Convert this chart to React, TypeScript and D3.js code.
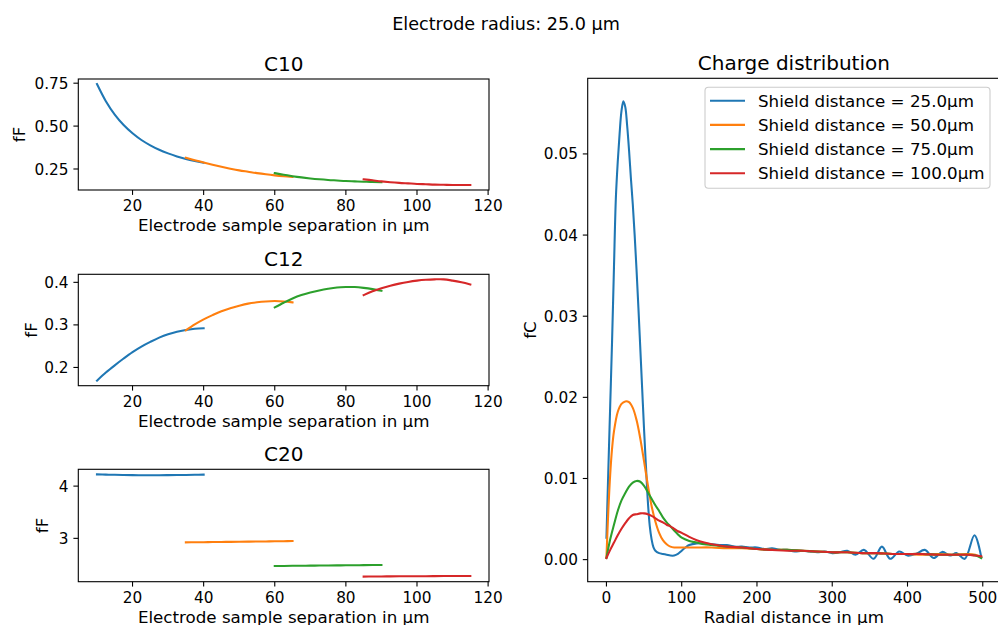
import React from 'react';
import * as d3 from 'd3';

const W = 998;
const H = 625;
const FONT = '"DejaVu Sans", Verdana, sans-serif';
const COLORS = ['#1f77b4', '#ff7f0e', '#2ca02c', '#d62728'];
const shieldDistances = [25.0, 50.0, 75.0, 100.0];

// electrode-sample separation sweeps (µm), one per shield distance
const sep25 = [10, 12.5, 15, 17.5, 20, 22.5, 25, 27.5, 30, 32.5, 35, 37.5, 40];
const sep50 = [35, 37.5, 40, 42.5, 45, 47.5, 50, 52.5, 55, 57.5, 60, 62.5, 65];
const sep75 = [60, 62.5, 65, 67.5, 70, 72.5, 75, 77.5, 80, 82.5, 85, 87.5, 90];
const sep100 = [85, 87.5, 90, 92.5, 95, 97.5, 100, 102.5, 105, 107.5, 110, 112.5, 115];

// C10 (fF)
const c10_25 = [0.745, 0.645, 0.567, 0.506, 0.458, 0.419, 0.388, 0.362, 0.341, 0.323, 0.308, 0.296, 0.286];
const c10_50 = [0.315, 0.301, 0.288, 0.275, 0.263, 0.252, 0.242, 0.234, 0.226, 0.219, 0.213, 0.208, 0.204];
const c10_75 = [0.226, 0.216, 0.208, 0.201, 0.195, 0.19, 0.186, 0.183, 0.18, 0.178, 0.176, 0.174, 0.173];
const c10_100 = [0.19, 0.184, 0.178, 0.173, 0.169, 0.166, 0.163, 0.161, 0.159, 0.158, 0.157, 0.157, 0.157];

// C12 (fF)
const c12_25 = [0.169, 0.188, 0.205, 0.221, 0.236, 0.249, 0.26, 0.27, 0.278, 0.284, 0.288, 0.291, 0.292];
const c12_50 = [0.287, 0.301, 0.313, 0.323, 0.332, 0.339, 0.345, 0.35, 0.353, 0.355, 0.356, 0.355, 0.353];
const c12_75 = [0.341, 0.352, 0.362, 0.37, 0.376, 0.381, 0.385, 0.388, 0.389, 0.389, 0.387, 0.384, 0.38];
const c12_100 = [0.37, 0.379, 0.386, 0.392, 0.397, 0.401, 0.404, 0.406, 0.407, 0.407, 0.404, 0.4, 0.395];

// C20 (fF)
const c20_25 = [4.224, 4.22, 4.216, 4.213, 4.21, 4.209, 4.208, 4.209, 4.21, 4.212, 4.214, 4.217, 4.22];
const c20_50 = [2.923, 2.925, 2.927, 2.929, 2.931, 2.933, 2.935, 2.937, 2.939, 2.941, 2.943, 2.946, 2.948];
const c20_75 = [2.47, 2.472, 2.474, 2.476, 2.478, 2.479, 2.481, 2.483, 2.484, 2.486, 2.487, 2.489, 2.49];
const c20_100 = [2.268, 2.269, 2.271, 2.272, 2.273, 2.274, 2.275, 2.276, 2.277, 2.278, 2.279, 2.279, 2.28];

// charge distribution (fC) vs radial distance (µm)
const r25 = [0, 2.5, 5, 7.5, 10, 12.5, 15, 17.5, 20, 22.5, 25, 27.5, 30, 32.5, 35, 37.5, 40, 42.5, 45, 47.5, 50, 52.5, 55, 57.5, 60, 62.5, 65, 70, 75, 80, 85, 90, 95, 100, 105, 110, 120, 130, 140, 150, 160, 170, 180, 190, 200, 210, 220, 230, 240, 250, 260, 270, 280, 290, 300, 310, 320, 331, 342, 355, 366, 377, 389, 400, 411, 423, 435, 446, 457, 465, 476, 489, 498];
const q25 = [0.0027, 0.011, 0.019, 0.027, 0.036, 0.0445, 0.049, 0.0525, 0.0553, 0.0565, 0.0558, 0.0535, 0.0505, 0.047, 0.0438, 0.04, 0.0357, 0.031, 0.026, 0.021, 0.016, 0.0115, 0.0072, 0.0042, 0.0025, 0.0015, 0.0011, 0.0008, 0.0007, 0.0006, 0.0005, 0.0005, 0.0007, 0.0011, 0.0015, 0.0018, 0.002, 0.002, 0.0019, 0.0018, 0.0018, 0.0016, 0.0016, 0.0015, 0.0015, 0.0013, 0.0014, 0.0012, 0.0012, 0.001, 0.0011, 0.001, 0.0009, 0.001, 0.0008, 0.0009, 0.0011, 0.0006, 0.0012, 0.0001, 0.0016, 0.0001, 0.001, 0.0005, 0.0007, 0.0012, 0.0002, 0.00095, 0.0005, 0.0008, 0.0001, 0.003, 0.0003];

const r50 = [0, 2.5, 5, 7.5, 10, 15, 20, 25, 30, 35, 40, 45, 50, 55, 60, 65, 70, 75, 80, 85, 90, 100, 110, 120, 140, 160, 180, 200, 220, 240, 260, 280, 300, 320, 340, 360, 380, 400, 420, 440, 460, 480, 490, 498];
const q50 = [0.0003, 0.006, 0.0105, 0.0137, 0.0158, 0.0182, 0.0192, 0.0195, 0.0194, 0.0187, 0.0172, 0.0149, 0.0121, 0.0092, 0.0066, 0.0047, 0.0033, 0.0024, 0.0019, 0.0016, 0.0015, 0.0015, 0.0015, 0.0015, 0.0015, 0.0014, 0.0014, 0.0013, 0.0012, 0.0012, 0.0011, 0.001, 0.0009, 0.0009, 0.0008, 0.0008, 0.0007, 0.0007, 0.0006, 0.0007, 0.0006, 0.0007, 0.0006, 0.0003];

const r75 = [0, 5, 10, 15, 20, 25, 30, 35, 40, 45, 50, 55, 60, 65, 70, 75, 80, 85, 90, 95, 100, 110, 120, 130, 140, 160, 180, 200, 220, 240, 260, 280, 300, 320, 340, 360, 380, 400, 420, 440, 460, 480, 490, 498];
const q75 = [0.0002, 0.0025, 0.0043, 0.006, 0.0073, 0.0082, 0.009, 0.0095, 0.0097, 0.0096, 0.0091, 0.0083, 0.0075, 0.0067, 0.006, 0.0052, 0.0046, 0.0041, 0.0036, 0.0031, 0.0027, 0.0023, 0.0021, 0.0019, 0.0018, 0.0016, 0.0015, 0.0013, 0.0012, 0.0012, 0.0011, 0.001, 0.0009, 0.0009, 0.0008, 0.0008, 0.0007, 0.0007, 0.0007, 0.0006, 0.0006, 0.0006, 0.0005, 0.0002];

const r100 = [0, 5, 10, 15, 20, 25, 30, 35, 40, 45, 50, 55, 60, 65, 70, 75, 80, 85, 90, 95, 100, 110, 120, 130, 140, 160, 180, 200, 220, 240, 260, 280, 300, 320, 340, 360, 380, 400, 420, 440, 460, 480, 490, 498];
const q100 = [0.0002, 0.0012, 0.0021, 0.003, 0.0038, 0.0045, 0.0051, 0.0055, 0.0056, 0.0057, 0.0057, 0.0056, 0.0054, 0.0051, 0.0048, 0.0046, 0.0043, 0.0041, 0.0038, 0.0035, 0.0033, 0.0028, 0.0024, 0.0021, 0.0019, 0.0016, 0.0015, 0.0013, 0.0012, 0.0011, 0.0011, 0.001, 0.0009, 0.0009, 0.0008, 0.0008, 0.0007, 0.0007, 0.0007, 0.0006, 0.0006, 0.0006, 0.0005, 0.0004];

const sepTicks = [20, 40, 60, 80, 100, 120];
const c10Ticks = [0.25, 0.5, 0.75];
const c12Ticks = [0.2, 0.3, 0.4];
const c20Ticks = [3, 4];
const radialTicks = [0, 100, 200, 300, 400, 500];
const chargeTicks = [0, 0.01, 0.02, 0.03, 0.04, 0.05];

type Series = { xs: number[]; ys: number[]; color: string };

const LW = 2.08;
const SPINE = 1.1;
const TICK_LEN = 4.9;
const TICK_FS = 15.3;
const LABEL_FS = 16.7;
const TITLE_FS = 20;
const SUPTITLE_FS = 17.6;

function padded(vals: number[]): [number, number] {
  const [lo, hi] = d3.extent(vals) as [number, number];
  const m = (hi - lo) * 0.05;
  return [lo - m, hi + m];
}

let clipCount = 0;

function Axes(props: {
  box: { x0: number; x1: number; y0: number; y1: number };
  series: Series[];
  xTicks: number[];
  yTicks: number[];
  yFmt: (v: number) => string;
  title: string;
  xlabel: string;
  ylabel: string;
  ylabelX: number;
  children?: (x: d3.ScaleLinear<number, number>, y: d3.ScaleLinear<number, number>) => React.ReactNode;
}) {
  const { box, series } = props;
  const x = d3.scaleLinear().domain(padded(series.flatMap(s => s.xs))).range([box.x0, box.x1]);
  const y = d3.scaleLinear().domain(padded(series.flatMap(s => s.ys))).range([box.y1, box.y0]);
  const line = d3.line<[number, number]>()
    .x(d => x(d[0]))
    .y(d => y(d[1]))
    .curve(d3.curveCatmullRom.alpha(0.5));
  const clipId = 'clip' + (clipCount++);
  const cy = (box.y0 + box.y1) / 2;

  return (
    <g>
      <clipPath id={clipId}>
        <rect x={box.x0} y={box.y0} width={box.x1 - box.x0} height={box.y1 - box.y0} />
      </clipPath>
      <g clipPath={`url(#${clipId})`}>
        {series.map((s, i) => (
          <path key={i} d={line(s.xs.map((v, j) => [v, s.ys[j]]) as [number, number][]) || ''}
            fill="none" stroke={s.color} strokeWidth={LW} strokeLinejoin="round" strokeLinecap="square" />
        ))}
      </g>
      <rect x={box.x0} y={box.y0} width={box.x1 - box.x0} height={box.y1 - box.y0}
        fill="none" stroke="#000" strokeWidth={SPINE} />
      {props.xTicks.map(t => (
        <g key={'x' + t}>
          <line x1={x(t)} x2={x(t)} y1={box.y1} y2={box.y1 + TICK_LEN} stroke="#000" strokeWidth={SPINE} />
          <text x={x(t)} y={box.y1 + TICK_LEN + 4.9} dy="0.76em" textAnchor="middle" fontSize={TICK_FS}>{t}</text>
        </g>
      ))}
      {props.yTicks.map(t => (
        <g key={'y' + t}>
          <line x1={box.x0 - TICK_LEN} x2={box.x0} y1={y(t)} y2={y(t)} stroke="#000" strokeWidth={SPINE} />
          <text x={box.x0 - TICK_LEN - 4.9} y={y(t)} dy="0.36em" textAnchor="end" fontSize={TICK_FS}>{props.yFmt(t)}</text>
        </g>
      ))}
      <text x={(box.x0 + box.x1) / 2} y={box.y0 - 8} textAnchor="middle" fontSize={TITLE_FS}>{props.title}</text>
      <text x={(box.x0 + box.x1) / 2} y={box.y1 + 41} textAnchor="middle" fontSize={LABEL_FS}>{props.xlabel}</text>
      <text transform={`translate(${props.ylabelX},${cy}) rotate(-90)`} textAnchor="middle" fontSize={LABEL_FS}>{props.ylabel}</text>
      {props.children && props.children(x, y)}
    </g>
  );
}

const seps = [sep25, sep50, sep75, sep100];
const mk = (vals: number[][]): Series[] => vals.map((ys, i) => ({ xs: seps[i], ys, color: COLORS[i] }));

export default function App() {
  clipCount = 0;
  const leftX0 = 78.3;
  const leftX1 = 489;
  const sepLabel = 'Electrode sample separation in µm';
  const chargeSeries: Series[] = [
    { xs: r25, ys: q25, color: COLORS[0] },
    { xs: r50, ys: q50, color: COLORS[1] },
    { xs: r75, ys: q75, color: COLORS[2] },
    { xs: r100, ys: q100, color: COLORS[3] },
  ];
  const f2 = d3.format('.2f');
  const f1 = d3.format('.1f');
  const f0 = d3.format('d');

  return (
    <svg width={W} height={H} style={{ position: 'absolute', left: 0, top: 0, background: '#fff' }}
      fontFamily={FONT} fill="#000">
      <rect width={W} height={H} fill="#fff" />
      <text x={506} y={30} textAnchor="middle" fontSize={SUPTITLE_FS}>Electrode radius: 25.0 µm</text>

      <Axes box={{ x0: leftX0, x1: leftX1, y0: 79, y1: 190 }} series={mk([c10_25, c10_50, c10_75, c10_100])}
        xTicks={sepTicks} yTicks={c10Ticks} yFmt={f2} title="C10" xlabel={sepLabel} ylabel="fF" ylabelX={25} />
      <Axes box={{ x0: leftX0, x1: leftX1, y0: 274.3, y1: 385.7 }} series={mk([c12_25, c12_50, c12_75, c12_100])}
        xTicks={sepTicks} yTicks={c12Ticks} yFmt={f1} title="C12" xlabel={sepLabel} ylabel="fF" ylabelX={37} />
      <Axes box={{ x0: leftX0, x1: leftX1, y0: 469.3, y1: 581.7 }} series={mk([c20_25, c20_50, c20_75, c20_100])}
        xTicks={sepTicks} yTicks={c20Ticks} yFmt={f0} title="C20" xlabel={sepLabel} ylabel="fF" ylabelX={48} />

      <Axes box={{ x0: 587.7, x1: 1000, y0: 78.3, y1: 581.7 }} series={chargeSeries}
        xTicks={radialTicks} yTicks={chargeTicks} yFmt={f2} title="Charge distribution"
        xlabel="Radial distance in µm" ylabel="fC" ylabelX={536}>
        {() => (
          <g>
            <rect x={705} y={87.3} width={285} height={101} rx={3.5} fill="#fff" fillOpacity={0.8}
              stroke="#cccccc" strokeWidth={1.1} />
            {shieldDistances.map((d, i) => {
              const ry = 100.7 + i * 24.2;
              return (
                <g key={d}>
                  <line x1={710} x2={745} y1={ry} y2={ry} stroke={COLORS[i]} strokeWidth={LW} />
                  <text x={758} y={ry} dy="0.36em" fontSize={LABEL_FS}>{`Shield distance = ${d.toFixed(1)}µm`}</text>
                </g>
              );
            })}
          </g>
        )}
      </Axes>
    </svg>
  );
}
